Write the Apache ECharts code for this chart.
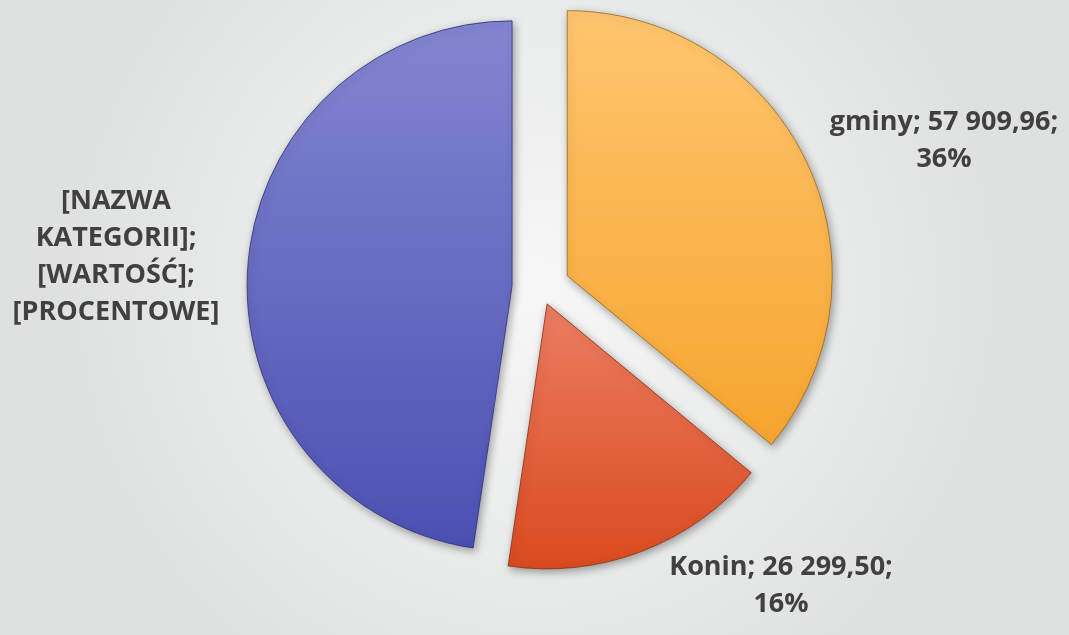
<!DOCTYPE html>
<html>
<head>
<meta charset="utf-8">
<script src="https://cdn.jsdelivr.net/npm/echarts@6/dist/echarts.min.js"></script>
<style>
    html, body { margin: 0; padding: 0; }
    #pie { width: 1069px; height: 635px; }
</style>
</head>
<body>
<div id="pie"></div>
<script>
// dane
var categories = ['gminy', 'Konin', '[NAZWA KATEGORII]'];
var values = [57909.96, 26299.50, 76650];
// trzecia etykieta zostala w oryginale jako pole zastepcze
var placeholderLabel = '[NAZWA\nKATEGORII];\n[WARTOŚĆ];\n[PROCENTOWE]';

var topColors = ['#ffc56f', '#ec7d62', '#8286d0'];
var bottomColors = ['#f5a52e', '#d94a1e', '#4c50b2'];
var edgeColors = ['#9a6a1c', '#8a2e12', '#2e3078'];
var labelPos = [[944, 141], [781, 586], [116, 257]];

function fmtPl(v) {
    var parts = v.toFixed(2).split('.');
    var intPart = parts[0].replace(/\B(?=(\d{3})+(?!\d))/g, ' ');
    return intPart + ',' + parts[1];
}

var total = values.reduce(function (a, b) { return a + b; }, 0);

function labelText(i) {
    if (i === 2) return placeholderLabel;
    var pct = Math.round(values[i] / total * 100);
    return categories[i] + '; ' + fmtPl(values[i]) + ';\n' + pct + '%';
}

function sliceStyle(i) {
    return {
        color: {
            type: 'linear', x: 0, y: 0, x2: 0, y2: 1,
            colorStops: [
                {offset: 0, color: topColors[i]},
                {offset: 1, color: bottomColors[i]}
            ]
        },
        borderColor: edgeColors[i],
        borderWidth: 0.8,
        shadowBlur: 8,
        shadowOffsetX: 2,
        shadowOffsetY: 3,
        shadowColor: 'rgba(0,0,0,0.35)'
    };
}

// seria 0 - gminy i trzecia kategoria, seria 1 - Konin (mniejsze wysuniecie)
function buildData(visibleIdx) {
    var out = [];
    for (var i = 0; i < categories.length; i++) {
        var show = visibleIdx.indexOf(i) >= 0;
        out.push({
            name: categories[i],
            value: values[i],
            selected: show,
            itemStyle: show ? sliceStyle(i) : {color: 'transparent', borderWidth: 0, shadowBlur: 0}
        });
    }
    return out;
}

// etykiety jako zwykly tekst (labelLayout w pie nie chcial sluchac)
var labels = [];
for (var i = 0; i < categories.length; i++) {
    labels.push({
        type: 'text',
        x: labelPos[i][0],
        y: labelPos[i][1],
        silent: true,
        style: {
            text: labelText(i),
            align: 'center',
            verticalAlign: 'middle',
            fill: '#404040',
            fontFamily: 'Open Sans',
            fontWeight: 'bold',
            fontSize: 27,
            lineHeight: 37
        }
    });
}

var dom = document.getElementById('pie');
var myChart = echarts.init(dom);
var option = {
    animation: false,
    backgroundColor: {
        type: 'radial', x: 0.5, y: 0.45, r: 0.75,
        colorStops: [
            {offset: 0, color: '#f7f7f7'},
            {offset: 1, color: '#dfe1e1'}
        ]
    },
    graphic: labels,
    series: [
        {
            type: 'pie',
            center: [541, 288],
            radius: 265,
            startAngle: 90,
            clockwise: true,
            selectedMode: 'multiple',
            selectedOffset: 29,
            label: {show: false},
            labelLine: {show: false},
            emphasis: {disabled: true},
            data: buildData([0, 2])
        },
        {
            type: 'pie',
            center: [541, 288],
            radius: 265,
            startAngle: 90,
            clockwise: true,
            selectedMode: 'multiple',
            selectedOffset: 17,
            label: {show: false},
            labelLine: {show: false},
            emphasis: {disabled: true},
            data: buildData([1])
        }
    ]
};
myChart.setOption(option, true);
</script>
</body>
</html>
